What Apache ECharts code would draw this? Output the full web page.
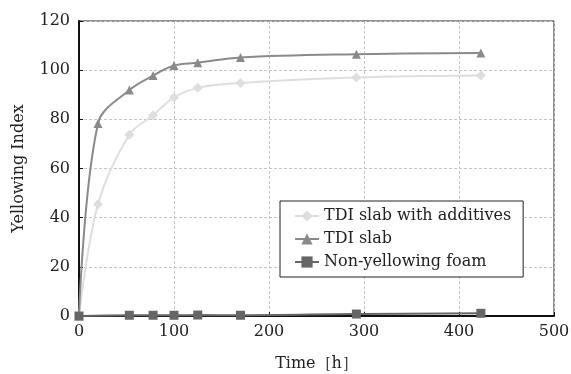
<!DOCTYPE html>
<html><head><meta charset="utf-8">
<script src="https://cdn.jsdelivr.net/npm/echarts@6/dist/echarts.min.js"></script>
<style>html,body{margin:0;padding:0;background:#fff}#c{width:571px;height:374px}</style>
</head><body><div id="c"></div>
<script>
const timesH = [0, 20, 53, 78, 100, 125, 170, 292, 423];
const additivesVals = [0, 45.5, 73.7, 81.7, 88.9, 92.8, 94.8, 97.0, 97.8];
const slabVals = [0, 78.3, 91.9, 97.8, 101.9, 103.0, 105.2, 106.5, 107.0];
const nonYellowTimes = [0, 53, 78, 100, 125, 170, 292, 423];
const nonYellowVals = [0, 0.3, 0.3, 0.3, 0.4, 0.3, 0.8, 1.1];
const xTicks = [0, 100, 200, 300, 400, 500];
const yTicks = [0, 20, 40, 60, 80, 100, 120];
const seriesNames = ['TDI slab with additives', 'TDI slab', 'Non-yellowing foam'];

const font = "'DejaVu Serif', 'Liberation Serif', serif";
const pair = (ts, vals) => ts.map((t, i) => [t, vals[i]]);
const chart = echarts.init(document.getElementById('c'), null, {renderer: 'canvas'});
chart.setOption({
  animation: false,
  backgroundColor: '#fff',
  textStyle: {fontFamily: font},
  grid: {left: 79, right: 17, top: 21, bottom: 58, show: true, borderColor: '#222', borderWidth: 1,
         containLabel: false, outerBoundsMode: 'none'},
  xAxis: {
    type: 'value', min: xTicks[0], max: xTicks[xTicks.length - 1], interval: 100,
    name: 'Time［h］', nameLocation: 'middle', nameGap: 40,
    nameTextStyle: {fontFamily: font, fontSize: 16, color: '#222'},
    axisLine: {onZero: false, lineStyle: {color: '#111', width: 2}},
    axisTick: {inside: true, length: 4, lineStyle: {color: '#111'}},
    axisLabel: {fontFamily: font, fontSize: 16, color: '#222', margin: 8},
    splitLine: {show: true, lineStyle: {color: '#c4c4c4', type: [3, 2], width: 1}}
  },
  yAxis: {
    type: 'value', min: yTicks[0], max: yTicks[yTicks.length - 1], interval: 20,
    name: 'Yellowing Index', nameLocation: 'middle', nameGap: 52,
    nameTextStyle: {fontFamily: font, fontSize: 16, color: '#222'},
    axisLine: {show: true, lineStyle: {color: '#111', width: 2}},
    axisTick: {show: true, inside: true, length: 4, lineStyle: {color: '#111'}},
    axisLabel: {fontFamily: font, fontSize: 16, color: '#222', margin: 9},
    splitLine: {show: true, lineStyle: {color: '#c4c4c4', type: [3, 2], width: 1}}
  },
  legend: {
    left: 280, top: 201, orient: 'vertical',
    itemGap: 7, itemWidth: 24, itemHeight: 14,
    padding: [7, 12, 7, 14],
    borderColor: '#222', borderWidth: 1, backgroundColor: '#fff',
    textStyle: {fontFamily: font, fontSize: 16, color: '#222'},
    data: seriesNames
  },
  series: [
    {name: seriesNames[0], type: 'line', data: pair(timesH, additivesVals), smooth: 0.35,
     symbol: 'diamond', symbolSize: 10, z: 2,
     itemStyle: {color: '#dedede'}, lineStyle: {color: '#dedede', width: 2}},
    {name: seriesNames[1], type: 'line', data: pair(timesH, slabVals), smooth: 0.35,
     symbol: 'triangle', symbolSize: 9, z: 3,
     itemStyle: {color: '#8a8a8a'}, lineStyle: {color: '#8a8a8a', width: 2}},
    {name: seriesNames[2], type: 'line', data: pair(nonYellowTimes, nonYellowVals), smooth: 0.35,
     symbol: 'rect', symbolSize: 9, z: 4,
     itemStyle: {color: '#666'}, lineStyle: {color: '#666', width: 2}}
  ]
});
</script></body></html>
